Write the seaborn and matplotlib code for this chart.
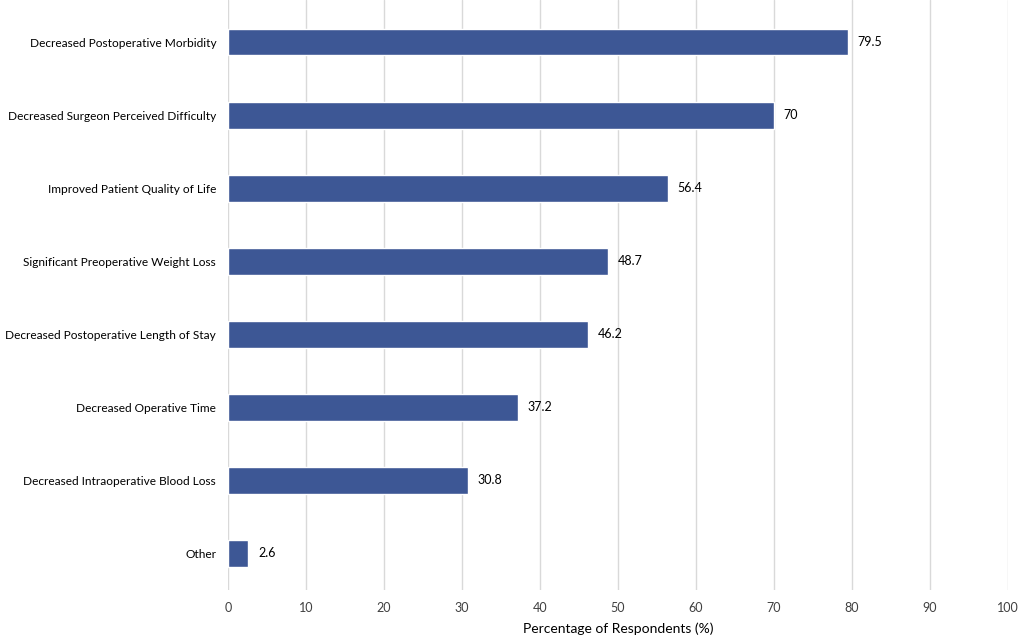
import pandas as pd
import seaborn as sns
import matplotlib.pyplot as plt

# Data
reasons = [
    "Decreased Postoperative Morbidity",
    "Decreased Surgeon Perceived Difficulty",
    "Improved Patient Quality of Life",
    "Significant Preoperative Weight Loss",
    "Decreased Postoperative Length of Stay",
    "Decreased Operative Time",
    "Decreased Intraoperative Blood Loss",
    "Other",
]
percent = [79.5, 70, 56.4, 48.7, 46.2, 37.2, 30.8, 2.6]
value_text = ["79.5", "70", "56.4", "48.7", "46.2", "37.2", "30.8", "2.6"]

df = pd.DataFrame({"Reason": reasons, "Percent": percent})

sns.set_theme(style="white")
plt.rcParams["font.family"] = ["Lato", "DejaVu Sans"]

fig = plt.figure(figsize=(10.22, 6.4), dpi=100)
ax = fig.add_axes([228 / 1022, 1 - 590 / 640, 780 / 1022, 590 / 640])

sns.barplot(data=df, x="Percent", y="Reason", color="#3D5795",
            width=0.36, saturation=1, ax=ax, zorder=3)

# value labels to the right of each bar
ax.bar_label(ax.containers[0], labels=value_text, padding=7, fontsize=9, color="black")

ax.set_xlim(0, 100)
ax.set_ylim(7.5, -0.58)
ax.set_xticks(range(0, 101, 10))
ax.grid(axis="x", color="#D9D9D9", linewidth=1, zorder=0)
ax.grid(axis="y", visible=False)
for s in ax.spines.values():
    s.set_visible(False)

ax.tick_params(axis="both", length=0, colors="#000000")
ax.tick_params(axis="x", pad=9, labelsize=9, colors="#404040")
ax.tick_params(axis="y", pad=8.5, labelsize=8.6)
ax.set_ylabel("")
ax.set_xlabel("Percentage of Respondents (%)", fontsize=10, labelpad=6, color="black")

fig.savefig("out.png", dpi=100)
